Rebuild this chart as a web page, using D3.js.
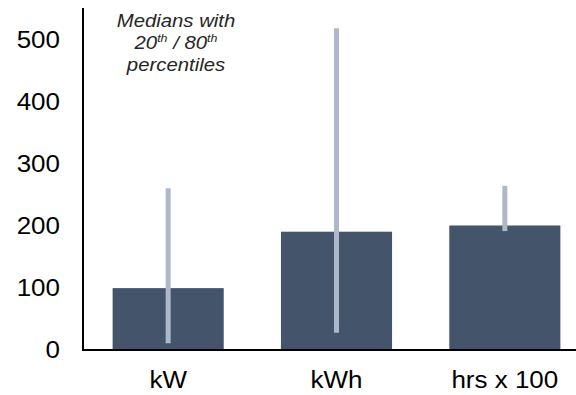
<!DOCTYPE html>
<html>
<head>
<meta charset="utf-8">
<script src="https://cdn.jsdelivr.net/npm/d3@7"></script>
<style>
  body { margin: 0; background: #fff; }
  svg { display: block; font-family: "Liberation Sans", Arial, sans-serif; }
</style>
</head>
<body>
<svg id="chart" width="576" height="395"></svg>
<script>
// data
const categories = ["kW", "kWh", "hrs x 100"];
const medians = [99, 190, 200];
const p20 = [10, 27, 191];
const p80 = [260, 518, 264];
const yTicks = [0, 100, 200, 300, 400, 500];

const width = 576, height = 395;
const stretch = 1.13; // text in the source looks a bit wide

const svg = d3.select("#chart");

const x = d3.scaleBand()
    .domain(categories)
    .range([84, 589])
    .paddingInner(0.34)
    .paddingOuter(0.17);

const y = d3.scaleLinear()
    .domain([0, 550])
    .range([349.5, 8.5]);

const rows = categories.map((c, i) => ({ cat: c, med: medians[i], lo: p20[i], hi: p80[i] }));

// bars
svg.append("g")
    .selectAll("rect")
    .data(rows)
    .join("rect")
    .attr("x", d => x(d.cat))
    .attr("width", x.bandwidth())
    .attr("y", d => y(d.med))
    .attr("height", d => y(0) - y(d.med))
    .attr("fill", "#44546a");

// percentile whiskers
svg.append("g")
    .selectAll("line")
    .data(rows)
    .join("line")
    .attr("x1", d => x(d.cat) + x.bandwidth() / 2)
    .attr("x2", d => x(d.cat) + x.bandwidth() / 2)
    .attr("y1", d => y(d.lo))
    .attr("y2", d => y(d.hi))
    .attr("stroke", "#adb9ca")
    .attr("stroke-width", 5);

// axes lines
svg.append("line")
    .attr("x1", 83).attr("x2", 83)
    .attr("y1", 8).attr("y2", 351)
    .attr("stroke", "#000").attr("stroke-width", 2);
svg.append("line")
    .attr("x1", 82).attr("x2", width)
    .attr("y1", 350).attr("y2", 350)
    .attr("stroke", "#000").attr("stroke-width", 2);

// y tick labels
svg.append("g")
    .selectAll("text")
    .data(yTicks)
    .join("text")
    .attr("transform", d => `translate(60,${y(d)}) scale(${stretch},1)`)
    .attr("dy", "0.35em")
    .attr("text-anchor", "end")
    .attr("font-size", 23)
    .attr("fill", "#000")
    .text(d => d);

// category labels
svg.append("g")
    .selectAll("text")
    .data(categories)
    .join("text")
    .attr("transform", d => `translate(${x(d) + x.bandwidth() / 2},388) scale(${stretch},1)`)
    .attr("text-anchor", "middle")
    .attr("font-size", 23)
    .attr("fill", "#000")
    .text(d => d);

// note in the corner
const note = svg.append("g")
    .attr("font-size", 18)
    .attr("font-style", "italic")
    .attr("fill", "#262626")
    .attr("text-anchor", "middle");

note.append("text")
    .attr("transform", `translate(176,27) scale(${stretch},1)`)
    .text("Medians with");

const mid = note.append("text")
    .attr("transform", `translate(176,49) scale(${stretch},1)`);
mid.append("tspan").text("20");
mid.append("tspan").attr("font-size", 11).attr("dy", -7).text("th");
mid.append("tspan").attr("dy", 7).text(" / 80");
mid.append("tspan").attr("font-size", 11).attr("dy", -7).text("th");

note.append("text")
    .attr("transform", `translate(176,71) scale(${stretch},1)`)
    .text("percentiles");
</script>
</body>
</html>
